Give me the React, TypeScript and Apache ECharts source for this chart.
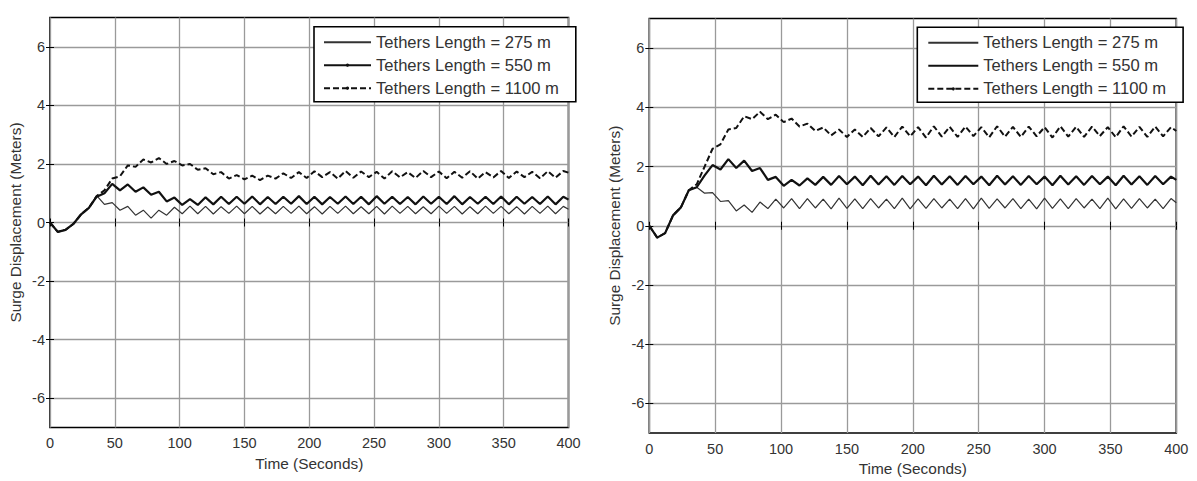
import React, { useEffect, useRef } from "react";
import * as echarts from "echarts";

const TIME = [0, 6, 12, 18, 24, 30, 36, 42, 48, 54, 60, 66, 72, 78, 84, 90, 96, 102, 108, 114, 120, 126, 132, 138, 144, 150, 156, 162, 168, 174, 180, 186, 192, 198, 204, 210, 216, 222, 228, 234, 240, 246, 252, 258, 264, 270, 276, 282, 288, 294, 300, 306, 312, 318, 324, 330, 336, 342, 348, 354, 360, 366, 372, 378, 384, 390, 396, 400];

const X_TICKS = [0, 50, 100, 150, 200, 250, 300, 350, 400];
const Y_TICKS = [-6, -4, -2, 0, 2, 4, 6];

const NAMES = ["Tethers Length = 275 m", "Tethers Length = 550 m", "Tethers Length = 1100 m"];

// Left panel
const LEFT_275 = [0, -0.32, -0.25, -0.05, 0.28, 0.5, 0.92, 0.62, 0.68, 0.42, 0.55, 0.25, 0.42, 0.15, 0.42, 0.25, 0.52, 0.3, 0.56, 0.3, 0.55,
  0.29, 0.54, 0.31, 0.56, 0.3, 0.55, 0.29, 0.53, 0.3, 0.55, 0.31, 0.56, 0.3, 0.54, 0.29, 0.55, 0.31, 0.56, 0.3, 0.54,
  0.3, 0.55, 0.29, 0.56, 0.31, 0.55, 0.3, 0.54, 0.3, 0.56, 0.31, 0.55, 0.29, 0.54, 0.3, 0.56, 0.31, 0.55, 0.3, 0.54,
  0.29, 0.55, 0.31, 0.56, 0.3, 0.55, 0.45];
const LEFT_550 = [0, -0.32, -0.25, -0.05, 0.28, 0.5, 0.88, 1.0, 1.32, 1.1, 1.3, 1.05, 1.2, 0.95, 1.05, 0.72, 0.85, 0.6, 0.8, 0.6, 0.86, 0.62, 0.88,
  0.63, 0.88, 0.64, 0.89, 0.62, 0.87, 0.63, 0.88, 0.64, 0.9, 0.63, 0.88, 0.62, 0.87, 0.64, 0.89, 0.63, 0.88, 0.62, 0.9,
  0.64, 0.88, 0.63, 0.87, 0.62, 0.89, 0.64, 0.88, 0.63, 0.9, 0.62, 0.87, 0.64, 0.88, 0.63, 0.89, 0.62, 0.88, 0.64, 0.87,
  0.63, 0.89, 0.62, 0.88, 0.78];
const LEFT_1100 = [0, -0.32, -0.25, -0.05, 0.28, 0.5, 0.9, 1.1, 1.5, 1.58, 1.95, 1.9, 2.15, 2.05, 2.2, 2.0, 2.1, 1.95, 2.0, 1.8, 1.85, 1.65, 1.72, 1.5, 1.62, 1.47, 1.6, 1.45, 1.6, 1.5, 1.68, 1.52, 1.72,
  1.52, 1.75, 1.55, 1.72, 1.5, 1.76, 1.53, 1.74, 1.55, 1.73, 1.5, 1.75, 1.54, 1.72, 1.52, 1.76, 1.55, 1.74, 1.51, 1.73,
  1.53, 1.75, 1.5, 1.72, 1.54, 1.76, 1.52, 1.74, 1.55, 1.73, 1.51, 1.75, 1.53, 1.76, 1.7];

// Right panel
const RIGHT_275 = [0, -0.4, -0.25, 0.35, 0.62, 1.2, 1.3, 1.1, 1.12, 0.82, 0.85, 0.5, 0.7, 0.45, 0.8, 0.58, 0.9, 0.6, 0.92,
  0.58, 0.92, 0.6, 0.9, 0.57, 0.93, 0.59, 0.91, 0.58, 0.92, 0.6, 0.9, 0.58, 0.93, 0.57, 0.91, 0.59, 0.92, 0.6, 0.9,
  0.58, 0.92, 0.57, 0.93, 0.59, 0.91, 0.6, 0.92, 0.58, 0.9, 0.57, 0.93, 0.59, 0.91, 0.58, 0.92, 0.6, 0.9, 0.58, 0.93,
  0.57, 0.91, 0.59, 0.92, 0.6, 0.9, 0.58, 0.92, 0.78];
const RIGHT_550 = [0, -0.4, -0.25, 0.35, 0.62, 1.2, 1.3, 1.7, 2.05, 1.9, 2.25, 1.95, 2.2, 1.85, 1.95, 1.55, 1.65, 1.35, 1.55, 1.36, 1.6, 1.38, 1.65,
  1.38, 1.68, 1.4, 1.66, 1.37, 1.69, 1.39, 1.67, 1.38, 1.68, 1.4, 1.66, 1.37, 1.69, 1.39, 1.67, 1.38, 1.68, 1.4, 1.66,
  1.37, 1.69, 1.39, 1.67, 1.38, 1.68, 1.4, 1.66, 1.37, 1.69, 1.39, 1.67, 1.38, 1.68, 1.4, 1.66, 1.37, 1.69, 1.39, 1.67,
  1.38, 1.68, 1.4, 1.66, 1.55];
const RIGHT_1100 = [0, -0.4, -0.25, 0.35, 0.62, 1.2, 1.4, 2.0, 2.6, 2.75, 3.25, 3.3, 3.7, 3.6, 3.85, 3.6, 3.75, 3.5, 3.62, 3.35, 3.45, 3.2, 3.32, 3.05, 3.25, 3.0, 3.25, 3.0, 3.3, 3.02, 3.32,
  3.0, 3.35, 3.02, 3.33, 2.98, 3.36, 3.01, 3.34, 3.0, 3.35, 3.03, 3.33, 2.99, 3.36, 3.01, 3.34, 3.0, 3.35, 3.02, 3.33,
  2.98, 3.36, 3.01, 3.34, 3.0, 3.35, 3.03, 3.33, 2.99, 3.36, 3.01, 3.34, 3.0, 3.35, 3.02, 3.33, 3.2];

const FONT = "Liberation Sans, Arial, sans-serif";
const TEXT = "#333";

function pairs(ys: number[]) {
  const n = Math.min(ys.length, TIME.length);
  const out: number[][] = [];
  for (let i = 0; i < n; i++) out.push([TIME[i], ys[i]]);
  return out;
}

const LINE_STYLES = [
  { color: "#333", width: 1.2, type: "solid" as any },
  { color: "#111", width: 2.2, type: "solid" as any },
  { color: "#111", width: 2, type: [6, 3] as any },
];

export default function App() {
  const ref = useRef<HTMLDivElement>(null);
  useEffect(() => {
    if (!ref.current) return;
    const chart = echarts.init(ref.current, undefined, { renderer: "svg" });

    const grids = [
      { left: 50, top: 17.5, width: 518.5, height: 410 },
      { left: 649.3, top: 18.5, width: 527, height: 417 },
    ];

    const xAxes: any[] = [];
    const yAxes: any[] = [];
    grids.forEach((g, gi) => {
      xAxes.push({
        type: "value", gridIndex: gi, min: 0, max: 400, interval: 50, position: "bottom",
        name: "Time (Seconds)", nameLocation: "middle", nameGap: 28,
        nameTextStyle: { fontFamily: FONT, fontSize: 15.4, color: TEXT },
        axisLine: { show: false },
        axisTick: { show: true, inside: true, length: 4, lineStyle: { color: "#000", width: 1 } },
        axisLabel: { show: true, margin: 8, fontFamily: FONT, fontSize: 14.5, color: TEXT, customValues: X_TICKS },
        splitLine: { show: true, lineStyle: { color: "#9a9a9a", width: 1.3 } },
      });
      xAxes.push({
        type: "value", gridIndex: gi, min: 0, max: 400, interval: 50, position: "top",
        axisLine: { show: false },
        axisTick: { show: true, inside: true, length: 4, lineStyle: { color: "#000", width: 1 } },
        axisLabel: { show: false },
        splitLine: { show: false },
      });
      yAxes.push({
        type: "value", gridIndex: gi, min: -7, max: 7, position: "left",
        name: "Surge Displacement (Meters)", nameLocation: "middle", nameGap: 27,
        nameTextStyle: { fontFamily: FONT, fontSize: 15.4, color: TEXT },
        axisLine: { show: false },
        axisTick: { show: true, inside: true, length: 4, lineStyle: { color: "#000", width: 1 }, customValues: Y_TICKS },
        axisLabel: { show: true, margin: 5, fontFamily: FONT, fontSize: 14.5, color: TEXT, customValues: Y_TICKS },
        splitLine: { show: true, lineStyle: { color: "#9a9a9a", width: 1.3 } },
      });
      yAxes.push({
        type: "value", gridIndex: gi, min: -7, max: 7, position: "right",
        axisLine: { show: false },
        axisTick: { show: true, inside: true, length: 4, lineStyle: { color: "#000", width: 1 }, customValues: Y_TICKS },
        axisLabel: { show: false },
        splitLine: { show: false },
      });
    });

    const leftData = [LEFT_275, LEFT_550, LEFT_1100];
    const rightData = [RIGHT_275, RIGHT_550, RIGHT_1100];
    const series: any[] = [];
    leftData.forEach((d, i) => {
      series.push({
        type: "line", name: NAMES[i], xAxisIndex: 0, yAxisIndex: 0, data: pairs(d),
        symbol: "none", lineStyle: LINE_STYLES[i], itemStyle: { color: LINE_STYLES[i].color }, z: 3 + i,
      });
    });
    rightData.forEach((d, i) => {
      series.push({
        type: "line", name: NAMES[i] + " ", xAxisIndex: 2, yAxisIndex: 2, data: pairs(d),
        symbol: "none", lineStyle: LINE_STYLES[i], itemStyle: { color: LINE_STYLES[i].color }, z: 3 + i,
      });
    });

    const noDot = { color: "transparent", borderColor: "transparent", borderWidth: 0 };
    const dot = { color: "#111", borderWidth: 0 };
    const legendBase = {
      orient: "vertical",
      backgroundColor: "#fff",
      borderColor: "#000",
      borderWidth: 1.6,
      itemHeight: 4,
      itemGap: 6,
      selectedMode: false,
      textStyle: { fontFamily: FONT, fontSize: 16.6, color: TEXT, lineHeight: 16 },
      formatter: (n: string) => n.trim(),
    };

    chart.setOption({
      animation: false,
      backgroundColor: "#fff",
      grid: grids.map((g) => ({ ...g, show: true, borderColor: "#000", borderWidth: 1.6, backgroundColor: "transparent" })),
      xAxis: xAxes,
      yAxis: yAxes,
      legend: [
        {
          ...legendBase, left: 314, top: 26.7, itemWidth: 47, padding: [7, 17, 5, 9],
          data: [
            { name: NAMES[0], itemStyle: noDot },
            { name: NAMES[1], itemStyle: dot },
            { name: NAMES[2], itemStyle: dot },
          ],
        },
        {
          ...legendBase, left: 917.3, top: 27.3, itemWidth: 50, padding: [7, 17, 5, 10],
          data: [
            { name: NAMES[0] + " ", itemStyle: noDot },
            { name: NAMES[1] + " ", itemStyle: noDot },
            { name: NAMES[2] + " ", itemStyle: dot },
          ],
        },
      ],
      series,
    });
    return () => chart.dispose();
  }, []);
  return <div ref={ref} style={{ position: "absolute", left: 0, top: 0, width: 1197, height: 481 }} />;
}
